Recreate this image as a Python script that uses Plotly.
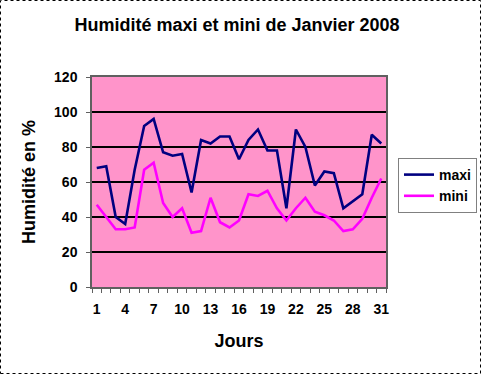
import plotly.graph_objects as go

days = list(range(1, 32))
maxi = [68, 69, 40, 36, 67, 92, 96, 77, 75, 76, 54, 84, 82, 86, 86, 73,
        84, 90, 78, 78, 45, 90, 80, 58, 66, 65, 45, 49, 53, 87, 82]
mini = [47, 40, 33, 33, 34, 67, 71, 48, 40, 45, 31, 32, 51, 37, 34, 38,
        53, 52, 55, 45, 38, 45, 51, 43, 41, 38, 32, 33, 39, 51, 62]
x_tick_vals = [1, 4, 7, 10, 13, 16, 19, 22, 25, 28, 31]
y_tick_vals = [0, 20, 40, 60, 80, 100, 120]

W, H = 482, 375
L, R, T, B = 92, 96, 77, 88
pw = W - L - R
ph = H - T - B

font_family = "Arial, Liberation Sans, sans-serif"

fig = go.Figure()
fig.add_trace(go.Scatter(x=days, y=maxi, name="maxi", mode="lines",
                         line=dict(color="#000080", width=2.6)))
fig.add_trace(go.Scatter(x=days, y=mini, name="mini", mode="lines",
                         line=dict(color="#FF00FF", width=2.6)))

fig.update_layout(
    width=W, height=H,
    margin=dict(l=L, r=R, t=T, b=B, pad=0, autoexpand=False),
    paper_bgcolor="white",
    plot_bgcolor="#FF94CA",
    font=dict(family=font_family, color="black", size=14, weight="bold"),
    title=dict(text="Humidité maxi et mini de Janvier 2008",
               font=dict(size=18, family=font_family, weight="bold"),
               x=(237) / W, xanchor="center", y=1 - 25 / H, yanchor="middle"),
    showlegend=True,
    legend=dict(x=1 + (398 - L - pw) / pw, xanchor="left",
                y=(H - B - 158) / ph, yanchor="top",
                bordercolor="#808080", borderwidth=1, bgcolor="white",
                font=dict(size=14, family=font_family, weight="bold"),
                itemwidth=30, tracegroupgap=4),
    xaxis=dict(range=[0.5, 31.5], tickmode="array", tickvals=x_tick_vals,
               ticks="", showgrid=False, zeroline=False,
               showline=True, linecolor="#606060", linewidth=1.5,
               tickfont=dict(size=14, family=font_family, weight="bold"),
               ticklabelstandoff=8,
               minor=dict(tickvals=[i + 0.5 for i in range(0, 32)], ticks="outside",
                          ticklen=4, tickcolor="#606060", tickwidth=1, showgrid=False),
               title=dict(text="Jours", font=dict(size=18, family=font_family, weight="bold"),
                          standoff=19),
               mirror=True),
    yaxis=dict(range=[0, 120], tickmode="array", tickvals=y_tick_vals,
               ticks="outside", ticklen=4, tickcolor="#606060",
               showgrid=True, gridcolor="black", gridwidth=2, zeroline=False,
               showline=True, linecolor="#606060", linewidth=1.5, mirror=True,
               tickfont=dict(size=14, family=font_family, weight="bold"),
               ticklabelstandoff=6,
               title=dict(text="Humidité en %", font=dict(size=18, family=font_family, weight="bold"),
                          standoff=14)),
)

# outer dotted frame of the chart area
fig.add_shape(type="rect", xref="paper", yref="paper",
              x0=(0.5 - L) / pw, x1=(W - 1.5 - L) / pw,
              y0=(H - B - (H - 1.5)) / ph, y1=(H - B - 0.5) / ph,
              line=dict(color="black", width=1, dash="dot"), layer="below")

fig.write_html("out.html", config={"displayModeBar": False},
               post_script="document.body.style.margin='0';document.body.style.overflow='hidden';")
